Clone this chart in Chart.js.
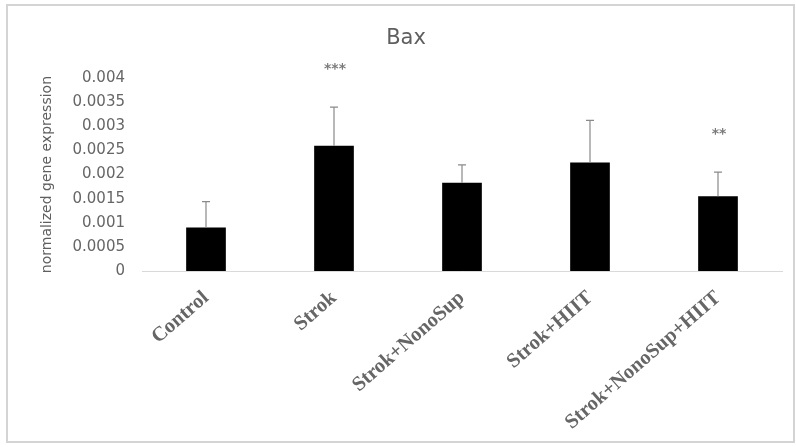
<!DOCTYPE html>
<html>
<head>
<meta charset="utf-8">
<script src="https://cdn.jsdelivr.net/npm/chart.js@4.4.1/dist/chart.umd.min.js"></script>
<style>
  html, body { margin: 0; padding: 0; background: #fff; }
  #wrap { width: 796px; height: 447px; }
</style>
</head>
<body>
<div id="wrap"><canvas id="chart"></canvas></div>
<script>
const categories = ['Control', 'Strok', 'Strok+NonoSup', 'Strok+HIIT', 'Strok+NonoSup+HIIT'];
const means = [0.0009, 0.0026, 0.00183, 0.00225, 0.00155];
const errors = [0.00054, 0.0008, 0.00037, 0.000875, 0.0005];
const sigMarks = ['', '***', '', '', '**'];

const textGray = '#5f5f5f';

// white page + thin frame like the exported figure
const framePlugin = {
  id: 'frame',
  beforeDraw(chart) {
    const ctx = chart.ctx;
    ctx.save();
    ctx.fillStyle = '#fff';
    ctx.fillRect(0, 0, chart.width, chart.height);
    ctx.strokeStyle = '#d4d4d4';
    ctx.lineWidth = 2;
    ctx.strokeRect(7, 5, chart.width - 9, chart.height - 10);
    ctx.restore();
  }
};

// upward error bars and significance stars
const errorPlugin = {
  id: 'errorBars',
  afterDatasetsDraw(chart) {
    const ctx = chart.ctx;
    const y = chart.scales.y;
    const meta = chart.getDatasetMeta(0);
    ctx.save();
    meta.data.forEach((bar, i) => {
      const top = y.getPixelForValue(means[i] + errors[i]);
      ctx.strokeStyle = '#8a8a8a';
      ctx.lineWidth = 1.2;
      ctx.beginPath();
      ctx.moveTo(bar.x, bar.y);
      ctx.lineTo(bar.x, top);
      ctx.moveTo(bar.x - 4, top);
      ctx.lineTo(bar.x + 4, top);
      ctx.stroke();
      if (sigMarks[i]) {
        ctx.fillStyle = '#7a7a7a';
        ctx.font = 'bold 14px "DejaVu Sans"';
        ctx.textAlign = 'center';
        ctx.textBaseline = 'middle';
        ctx.fillText(sigMarks[i], bar.x + 1, top - 38);
      }
    });
    ctx.restore();
  }
};

new Chart(document.getElementById('chart'), {
  type: 'bar',
  data: {
    labels: categories,
    datasets: [{
      data: means,
      backgroundColor: '#000',
      borderWidth: 0,
      barPercentage: 0.31,
      categoryPercentage: 1
    }]
  },
  options: {
    responsive: true,
    maintainAspectRatio: false,
    animation: false,
    layout: { padding: { left: 30, right: 14, top: 0, bottom: 0 } },
    plugins: {
      legend: { display: false },
      tooltip: { enabled: false },
      title: {
        display: true,
        text: 'Bax',
        color: textGray,
        font: { family: 'DejaVu Sans', size: 21, weight: 'normal' },
        padding: { top: 26, bottom: 27 }
      }
    },
    scales: {
      x: {
        grid: { display: false, drawTicks: false },
        border: { display: true, color: '#d9d9d9', width: 1 },
        ticks: {
          color: '#666',
          font: { family: 'Liberation Serif', size: 20.5, weight: 'bold' },
          minRotation: 41,
          maxRotation: 41,
          padding: 15,
          autoSkip: false
        },
        afterFit(scale) { scale.height = 176; }
      },
      y: {
        min: 0,
        max: 0.004,
        grid: { display: false, drawTicks: false },
        border: { display: false },
        ticks: {
          stepSize: 0.0005,
          color: '#666',
          padding: 17,
          font: { family: 'DejaVu Sans', size: 15 },
          callback: (v) => String(Number(v.toFixed(4)))
        },
        title: {
          display: true,
          text: 'normalized gene expression',
          color: textGray,
          font: { family: 'DejaVu Sans', size: 14 },
          padding: { top: 9, bottom: 0 }
        },
        afterFit(scale) { scale.width = 112; }
      }
    }
  },
  plugins: [framePlugin, errorPlugin]
});
</script>
</body>
</html>
